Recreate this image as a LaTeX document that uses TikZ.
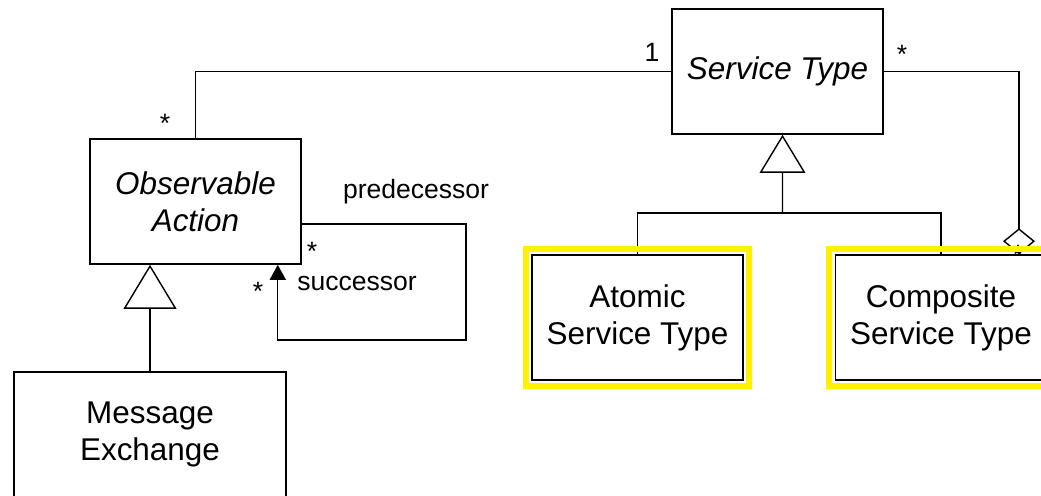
\documentclass[tikz,border=0pt]{standalone}
\usepackage{fontspec}
\setmainfont{Liberation Sans}
\usetikzlibrary{arrows.meta}

\begin{document}
\begin{tikzpicture}[x=0.02cm, y=0.02cm, line width=0.8pt,
  every node/.style={font=\fontsize{17.9}{21}\selectfont},
  cls/.style={draw, line width=0.9pt, minimum width=4.22cm, minimum height=2.5cm,
    inner sep=0pt, align=center},
  lbl/.style={font=\fontsize{15.1}{18}\selectfont, inner sep=0pt},
  hilite/.style={draw=yellow, line width=0.12cm},
  inherit/.style={-{Triangle[open, length=#1, width'=0pt 1.2]}},
  navarrow/.style={-{Triangle[length=0.3cm, width=0.32cm]}},
  aggarrow/.style={-{Diamond[open, length=0.52cm, width=0.64cm]}}]

\useasboundingbox (0,0) rectangle (1041,-495);
\clip (0,0) rectangle (1041,-495);

% Classes
\node[cls] (svctype) at (777.5,-71.5) {\itshape Service Type};
\node[cls] (obsact) at (195.5,-201.5) {\itshape Observable\\ \itshape Action};
\node[cls] (atomic) at (637.5,-317.5) {Atomic\\ Service Type};
\node[cls] (composite) at (941,-317.5) {Composite\\ Service Type};
\node[cls, minimum width=5.44cm] (msgex) at (150,-434.5) {Message\\ Exchange};

% Association: Observable Action -- Service Type
\draw (obsact.north) |- (svctype.west);
\node[lbl] (multobs) at (165,-123) {*};
\node[lbl] (multsvc) at (652,-52) {1};

% Aggregation: Composite Service Type <>-- Service Type
\draw[aggarrow] (svctype.east) -| ([xshift=1.56cm]composite.north);
\node[lbl] (multagg) at (902,-54) {*};
\node[lbl] (multcmp) at (1018,-254) {*};

% Generalization of the service types
\coordinate (genjoin) at (782.5,-213);
\draw (atomic.north) |- (genjoin) -| (composite.north);
\draw[inherit=0.76cm] (genjoin) -- ([xshift=0.1cm]svctype.south);

% Generalization of the observable actions
\draw[inherit=0.88cm] (msgex.north) -- (msgex.north |- obsact.south);

% Self association predecessor / successor
\coordinate (loopcorner) at (466,-340);
\draw[navarrow] ([yshift=-0.45cm]obsact.east) -| (loopcorner)
  -| ([xshift=-0.48cm]obsact.south east);
\node[lbl] (predname) at (416,-192) {predecessor};
\node[lbl] (succname) at (357,-283) {successor};
\node[lbl] (multpred) at (312,-251) {*};
\node[lbl] (multsucc) at (258,-291) {*};

% Highlighted service types
\draw[hilite] ([shift={(-5.5,5.5)}]atomic.north west) rectangle ([shift={(5.5,-5.5)}]atomic.south east);
\draw[hilite] ([shift={(-5.5,5.5)}]composite.north west) rectangle ([shift={(5.5,-5.5)}]composite.south east);

\end{tikzpicture}
\end{document}
